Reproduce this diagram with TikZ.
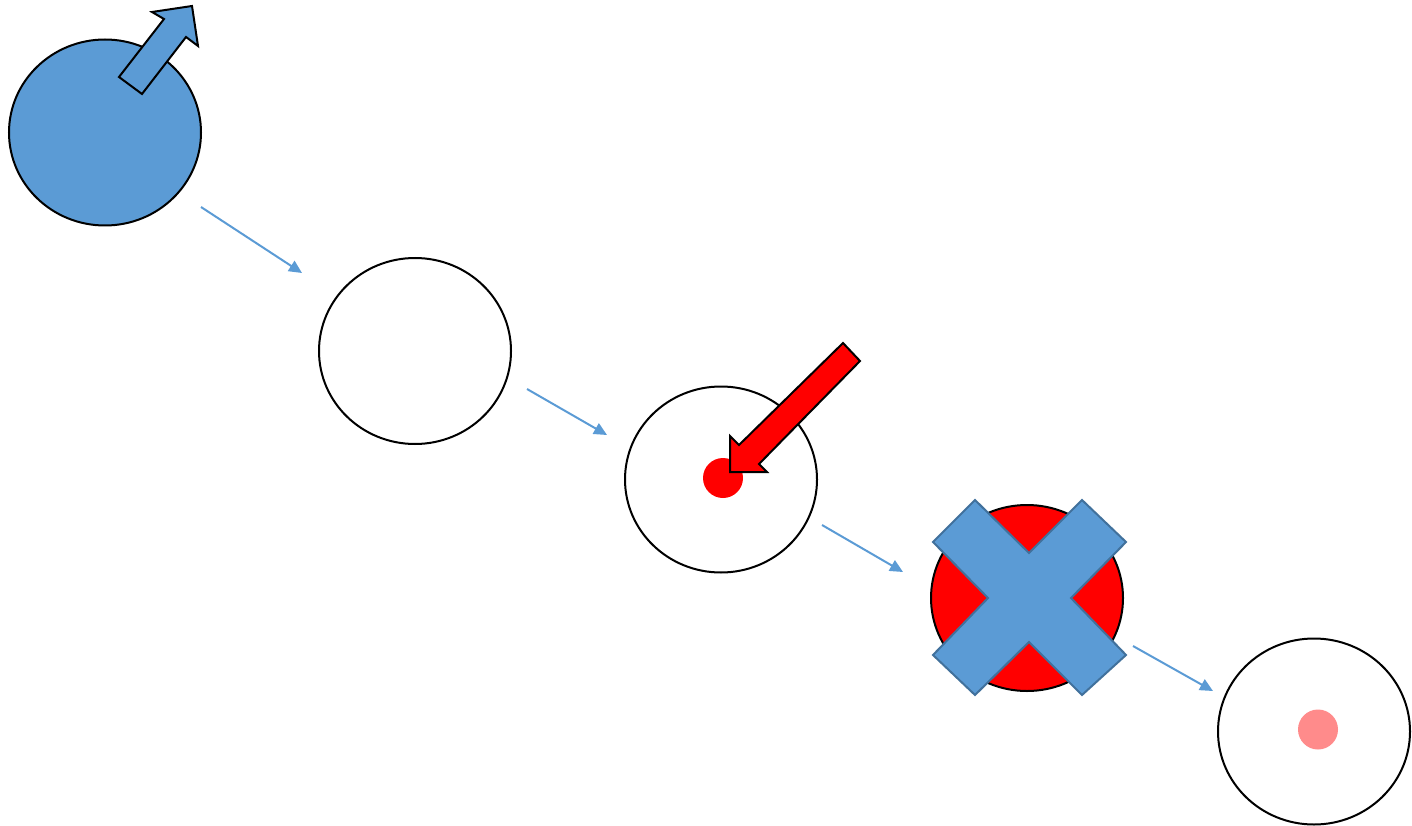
\documentclass[tikz,border=0pt]{standalone}
\usetikzlibrary{arrows.meta,shapes.geometric}
\definecolor{cblue}{HTML}{5B9BD5}
\definecolor{cblueline}{HTML}{41719C}
\definecolor{cpink}{HTML}{FF8B8B}
\begin{document}
\begin{tikzpicture}[x=1pt,y=-1pt,
  state/.style={ellipse,draw=black,line width=2pt,minimum width=192pt,minimum height=186pt,inner sep=0pt},
  conn/.style={draw=cblue,line width=2pt,-{Triangle[length=13pt,width=12pt]}},
  dot/.style={circle,inner sep=0pt,minimum size=40pt},
  blockarrow/.style={draw=black,line width=2pt,line join=miter}
]
\useasboundingbox (0,0) rectangle (1412,826);
% circles
\node[state,fill=cblue] (s1) at (105,132.5) {};
\node[state,fill=white] (s2) at (415,351) {};
\node[state,fill=white] (s3) at (721,479.5) {};
\node[state,fill=red] (s4) at (1027,598) {};
\node[state,fill=white] (s5) at (1314,731.5) {};
% dots
\node[dot,fill=red] (d3) at (723,478) {};
\node[dot,fill=cpink] (d5) at (1318,729.5) {};
% blue block arrow
\draw[blockarrow,fill=cblue] (119,77) -- (164,19) -- (152,12) -- (192,6) -- (198,46) -- (186,37) -- (142,94) -- cycle;
% red block arrow
\draw[blockarrow,fill=red] (843,343) -- (860,361) -- (759,464) -- (767,472) -- (730,472) -- (730,436) -- (739,445) -- cycle;
% cross
\draw[draw=cblueline,line width=2pt,fill=cblue,line join=miter]
  (975,500) -- (1029,553) -- (1082,500) -- (1126,542) -- (1071,598) -- (1126,655) -- (1082,695) -- (1029,642) -- (975,695) -- (933,655) -- (988,598) -- (933,542) -- cycle;
% connectors
\coordinate (a1) at (201,207); \coordinate (b1) at (302,273);
\coordinate (a2) at (527,389); \coordinate (b2) at (607,435);
\coordinate (a3) at (822,525); \coordinate (b3) at (903,572);
\coordinate (a4) at (1133,646); \coordinate (b4) at (1213,691);
\draw[conn] (a1) -- (b1);
\draw[conn] (a2) -- (b2);
\draw[conn] (a3) -- (b3);
\draw[conn] (a4) -- (b4);
\end{tikzpicture}
\end{document}
